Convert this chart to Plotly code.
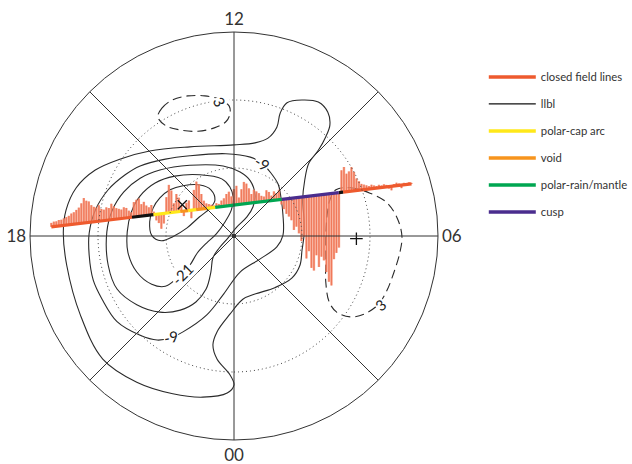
import numpy as np
import plotly.graph_objects as go

# ---------------- frame (magnetic latitude / MLT dial) ----------------
MLT_TICKS = [0, 3, 6, 9, 12, 15, 18, 21]
MLT_LABELS = ["00", "", "06", "", "12", "", "18", ""]
RING_COLAT = [10, 20]          # dotted rings (80 and 70 deg MLat)
MAX_COLAT = 30                 # outer circle = 60 deg MLat

# ---------------- potential contours (kV) -----------------------------
# polar-projected coordinates in degrees of colatitude:
# u -> toward 06 MLT, v -> toward 12 MLT
POT_M3_U = [-25.1, -24.7, -23.2, -20.4, -16.8, -12.4, -6.5, 0.0, 3.1, 5.0, 6.3, 6.8, 7.8, 10.0, 12.4,
            13.8, 14.1, 13.5, 12.4, 11.0, 10.4, 10.1, 10.3, 10.3, 10.0, 9.7, 8.5, 6.0, 3.2, 1.3, -0.6,
            -2.5, -3.1, -2.5, -0.6, 0.0, -1.0, -4.6, -9.0, -14.3, -19.3, -22.6, -24.6]
POT_M3_V = [0.6, 3.8, 7.1, 9.7, 11.3, 12.5, 13.1, 13.4, 13.7, 14.4, 16.0, 18.1, 19.6, 20.0, 19.7,
            18.2, 16.3, 14.6, 12.6, 10.7, 8.2, 5.3, 2.4, 0.1, -2.1, -4.3, -6.2, -7.6, -8.5, -9.3, -11.5,
            -14.1, -16.0, -18.1, -20.4, -21.9, -23.1, -23.7, -23.2, -21.5, -18.1, -11.6, -4.3]

POT_M9_U = [-21.3, -20.4, -18.5, -16.0, -13.8, -10.1, -6.5, -1.2, 2.4, 4.1, 5.4, 6.5, 6.9, 7.2, 7.2,
            6.3, 3.8, 0.9, -1.5, -4.0, -7.5, -9.4, -11.3, -13.8, -17.2, -19.4, -20.7, -21.3]
POT_M9_V = [0.4, 3.8, 6.8, 9.0, 10.3, 11.3, 11.8, 12.1, 11.6, 10.7, 9.3, 7.6, 5.7, 3.1, 0.1,
            -1.6, -3.4, -5.3, -8.5, -11.6, -14.1, -15.0, -15.3, -14.6, -12.6, -9.3, -6.5, -2.8]

POT_M15_U = [-18.7, -17.9, -16.2, -13.8, -10.9, -6.5, -1.6, 0.9, 2.4, 3.1, 2.8, 1.9, 0.4, -0.9,
             -2.2, -3.1, -3.4, -4.1, -5.6, -7.9, -10.9, -14.3, -17.2, -18.5]
POT_M15_V = [0.6, 3.8, 6.5, 8.5, 9.7, 10.4, 10.3, 9.4, 8.1, 6.0, 4.3, 2.8, 1.3, -0.3,
             -1.8, -3.2, -5.3, -7.8, -9.7, -10.9, -11.2, -10.1, -7.8, -4.3]

POT_M21_U = [-15.7, -15.1, -13.8, -11.6, -8.7, -5.0, -1.8, -0.6, -0.1, -0.4, -1.3, -2.6, -4.0,
             -5.4, -6.5, -8.2, -10.1, -12.1, -14.3, -15.6]
POT_M21_V = [0.6, 3.5, 5.9, 7.8, 8.8, 9.0, 8.4, 7.2, 5.6, 3.8, 2.1, 0.3, -1.0,
             -2.5, -4.3, -6.0, -7.4, -7.1, -5.3, -2.4]

POT_M27_U = [-10.9, -9.4, -7.5, -5.0, -3.4, -2.8, -3.5, -5.1, -6.9, -9.0, -10.7, -12.1, -12.4, -11.9]
POT_M27_V = [5.6, 6.8, 7.4, 7.5, 6.8, 5.3, 4.1, 2.8, 1.2, -0.1, -0.7, 0.1, 2.1, 4.1]

POT_P3A_U = [-11.2, -10.6, -9.1, -6.8, -4.3, -2.1, -0.7, -0.6, -1.2, -2.9, -5.3, -7.9, -10.0]
POT_P3A_V = [17.5, 18.8, 20.0, 20.6, 20.6, 20.1, 19.1, 17.9, 16.8, 15.9, 15.4, 15.6, 16.2]

POT_P3B_U = [15.0, 17.1, 20.0, 22.5, 24.1, 24.7, 24.4, 23.5, 22.4, 21.2, 19.1, 17.1, 15.1, 14.0,
             13.5, 13.5, 13.5, 13.7, 14.1]
POT_P3B_V = [6.8, 7.1, 6.3, 4.9, 2.4, -0.1, -2.4, -5.4, -8.2, -10.1, -11.5, -11.9, -11.2, -9.7,
             -6.8, -3.5, 0.1, 3.1, 5.3]

# contour label text, position (u, v) and text angle
LABEL_TEXT = ["-21", "-9", "-9", "3", "3"]
LABEL_U = [-7.6, -9.3, 4.1, -2.1, 21.5]
LABEL_V = [-5.6, -14.9, 10.7, 19.7, -10.1]
LABEL_ANGLE = [-45, -12, 32, 62, -40]

# potential minimum (x) and maximum (+)
POT_MIN_UV = (-7.6, 4.6)
POT_MAX_UV = (18.0, -0.4)

# ---------------- satellite track --------------------------------------
TRACK_START_MLT, TRACK_START_MLAT = 17.81, 63.1
TRACK_END_MLT, TRACK_END_MLAT = 7.09, 62.8

# region boundaries as fraction of the pass, and region types
REGION_BOUNDS = [0.0, 0.224, 0.284, 0.358, 0.380, 0.402, 0.432, 0.455, 0.640, 0.798, 0.810, 1.0]
REGION_TYPES = ["closed", "llbl", "pcarc", "void", "pcarc", "void", "pcarc",
                "mantle", "cusp", "llbl", "closed"]

REGION_NAMES = {"closed": "closed field lines", "llbl": "llbl", "pcarc": "polar-cap arc",
                "void": "void", "mantle": "polar-rain/mantle", "cusp": "cusp"}
REGION_COLORS = {"closed": "#EE5A2E", "llbl": "#111111", "pcarc": "#FFE81A",
                 "void": "#F7941D", "mantle": "#00A651", "cusp": "#4A2D8E"}
LEGEND_ORDER = ["closed", "llbl", "pcarc", "void", "mantle", "cusp"]

# cross-track ion drift along the pass (m/s), dusk -> dawn
VELOCITY = [160, 200, 200, 240, 240, 280, 320, 360, 440, 480, 560, 640, 800, 1000, 880, 840, 680, 600,
            560, 640, 480, 440, 520, 480, 640, 520, 440, 400, 360, 440, 400, 280, 200, 600, 680, 720,
            480, 560, 400, 320, 400, 120, -240, -360, -600, -400, 640, 1120, 880, 360, 720, 560, 240,
            -200, 320, 400, -320, 800, 1120, 1000, 600, 320, 200, 160, 120, 80, 160, 120, 240, 320,
            480, 560, 360, 640, 760, 280, 600, 880, 800, 600, 360, 520, 440, 360, 240, 200, 440, 360,
            200, 360, 280, 400, -200, -400, -600, -720, -880, -1280, -1160, -1440, -1760, -1600,
            -2480, -2200, -2880, -3000, -2400, -2880, -2480, -2640, -3120, -3520, -3680, -2640,
            -2400, -2200, 880, 1000, 720, 800, 960, 760, 480, 360, 240, 200, 160, 120, 160, 120, 80,
            120, 80, 120, 80, -80, -160, 80, 120, 80, -120, 80, 40, 80, 40]
BAR_SCALE_DEG_PER_MS = 1.0 / 272.0


def mlt_mlat_to_uv(mlt, mlat):
    colat = 90.0 - mlat
    ang = np.deg2rad(mlt * 15.0 - 90.0)
    return colat * np.cos(ang), colat * np.sin(ang)


def closed(a):
    return list(a) + [a[0]]


# ---------------- geometry of the frame ---------------------------------
W, H = 632, 464
CX, CY, R = 234, 236, 204
dom_x = [(CX - R) / W, (CX + R) / W]
dom_y = [(H - CY - R) / H, (H - CY + R) / H]

fig = go.Figure()

# dotted latitude rings
theta_full = np.linspace(0, 360, 361)
for rc in RING_COLAT:
    fig.add_trace(go.Scatterpolar(r=[rc] * len(theta_full), theta=theta_full, mode="lines",
                                  line=dict(color="#444", width=1, dash="1px,3px"),
                                  showlegend=False, hoverinfo="skip"))

# contours
CONTOURS = [
    (POT_M3_U, POT_M3_V, "solid"), (POT_M9_U, POT_M9_V, "solid"), (POT_M15_U, POT_M15_V, "solid"),
    (POT_M21_U, POT_M21_V, "solid"), (POT_M27_U, POT_M27_V, "solid"),
    (POT_P3A_U, POT_P3A_V, "9px,5px"), (POT_P3B_U, POT_P3B_V, "9px,5px"),
]
for cu, cv, dash in CONTOURS:
    fig.add_trace(go.Scatter(x=closed(cu), y=closed(cv), mode="lines",
                             line=dict(color="#2a2a2a", width=1.1, dash=dash, shape="spline", smoothing=1.0),
                             showlegend=False, hoverinfo="skip"))

# track positions
u0, v0 = mlt_mlat_to_uv(TRACK_START_MLT, TRACK_START_MLAT)
u1, v1 = mlt_mlat_to_uv(TRACK_END_MLT, TRACK_END_MLAT)
n = len(VELOCITY)
frac = np.linspace(0, 1, n)
bu = u0 + frac * (u1 - u0)
bv = v0 + frac * (v1 - v0)

bx, by = [], []
for ui, vi, vel in zip(bu, bv, VELOCITY):
    bx += [ui, ui, None]
    by += [vi, vi + vel * BAR_SCALE_DEG_PER_MS, None]
fig.add_trace(go.Scatter(x=bx, y=by, mode="lines",
                         line=dict(color="rgba(245,140,110,0.85)", width=2.4),
                         showlegend=False, hoverinfo="skip"))
fig.add_trace(go.Scatter(x=bx, y=by, mode="lines",
                         line=dict(color="rgba(232,80,42,0.7)", width=0.7),
                         showlegend=False, hoverinfo="skip"))

# coloured track segments
seg = {k: ([], []) for k in REGION_COLORS}
for i, t in enumerate(REGION_TYPES):
    fa, fb = REGION_BOUNDS[i], REGION_BOUNDS[i + 1]
    xs, ys = seg[t]
    xs += [u0 + fa * (u1 - u0), u0 + fb * (u1 - u0), None]
    ys += [v0 + fa * (v1 - v0), v0 + fb * (v1 - v0), None]
for t, (xs, ys) in seg.items():
    fig.add_trace(go.Scatter(x=xs, y=ys, mode="lines",
                             line=dict(color=REGION_COLORS[t], width=3.2),
                             showlegend=False, hoverinfo="skip"))

# potential extrema and pole
fig.add_trace(go.Scatter(x=[POT_MIN_UV[0]], y=[POT_MIN_UV[1]], mode="markers",
                         marker=dict(symbol="x-thin", size=9, line=dict(color="#111", width=1.3)),
                         showlegend=False, hoverinfo="skip"))
fig.add_trace(go.Scatter(x=[POT_MAX_UV[0]], y=[POT_MAX_UV[1]], mode="markers",
                         marker=dict(symbol="cross-thin", size=9, line=dict(color="#111", width=1.3)),
                         showlegend=False, hoverinfo="skip"))
fig.add_trace(go.Scatter(x=[0], y=[0], mode="markers", marker=dict(color="#111", size=4),
                         showlegend=False, hoverinfo="skip"))

# legend entries
for t in LEGEND_ORDER:
    fig.add_trace(go.Scatter(x=[None], y=[None], mode="lines", name=REGION_NAMES[t],
                             legendgroup=t,
                             line=dict(color=REGION_COLORS[t], width=1.2 if t == "llbl" else 3.5)))

# contour labels
for txt, lu, lv, ang in zip(LABEL_TEXT, LABEL_U, LABEL_V, LABEL_ANGLE):
    fig.add_annotation(x=lu, y=lv, xref="x", yref="y", text=txt, showarrow=False,
                       textangle=ang, bgcolor="white", borderpad=0,
                       font=dict(family="Lato", size=15, color="#222"))

fig.update_layout(
    width=W, height=H, autosize=False,
    margin=dict(l=0, r=0, t=0, b=0, pad=0, autoexpand=False),
    paper_bgcolor="white", plot_bgcolor="rgba(0,0,0,0)",
    xaxis=dict(domain=dom_x, range=[-MAX_COLAT, MAX_COLAT], visible=False, fixedrange=True),
    yaxis=dict(domain=dom_y, range=[-MAX_COLAT, MAX_COLAT], visible=False, fixedrange=True),
    polar=dict(
        domain=dict(x=dom_x, y=dom_y),
        bgcolor="rgba(0,0,0,0)",
        radialaxis=dict(range=[0, MAX_COLAT], showticklabels=False, ticks="", showline=False,
                        showgrid=False),
        angularaxis=dict(rotation=-90, direction="counterclockwise",
                         tickmode="array", tickvals=[h * 15 for h in MLT_TICKS], ticktext=MLT_LABELS,
                         ticks="", showline=True, linecolor="#333", linewidth=1,
                         gridcolor="#333", gridwidth=1,
                         tickfont=dict(family="Lato", size=17, color="#333")),
    ),
    legend=dict(x=0.7655, y=0.8655, xanchor="left", yanchor="top", tracegroupgap=8, itemwidth=47,
                bgcolor="rgba(0,0,0,0)", font=dict(family="Lato", size=11.3, color="#333")),
    showlegend=True,
)

# remove the browser's default page margin so the 632x464 figure fills the window exactly
fig.write_html("out.html", config={"displayModeBar": False},
               post_script="document.body.style.margin='0px';")
